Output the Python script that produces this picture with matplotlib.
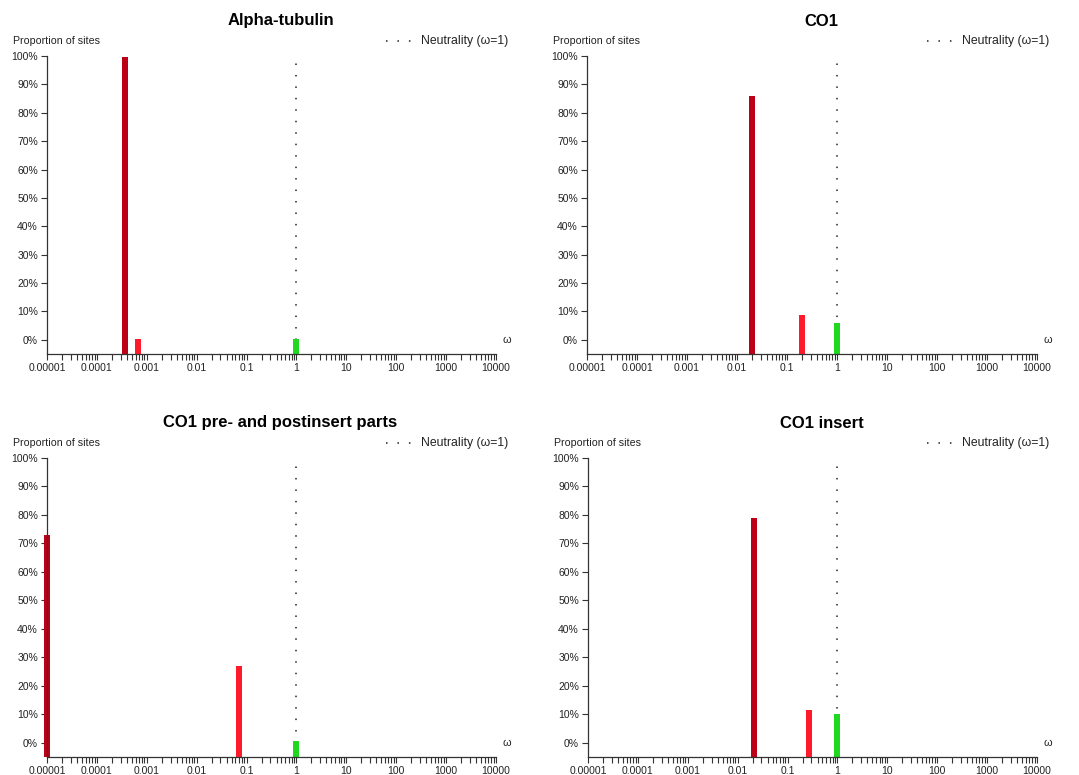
import matplotlib
matplotlib.use("Agg")
import matplotlib.pyplot as plt
from matplotlib.lines import Line2D
from matplotlib.ticker import LogLocator, FixedLocator, FixedFormatter, NullFormatter
import numpy as np

plt.rcParams['font.family'] = ['Liberation Sans', 'DejaVu Sans']

titles = ["Alpha-tubulin", "CO1", "CO1 pre- and postinsert parts", "CO1 insert"]

# omega values of the three site classes and their proportions (%)
omega_alpha = [0.00037, 0.00067, 1.0]
prop_alpha = [99.6, 0.3, 0.3]

omega_co1 = [0.0204, 0.20, 1.0]
prop_co1 = [86.0, 8.8, 6.0]

omega_prepost = [0.00001, 0.071, 1.0]
prop_prepost = [73.0, 27.0, 0.5]

omega_insert = [0.0214, 0.263, 1.0]
prop_insert = [79.0, 11.4, 10.1]

bar_colors = ["#bb0018", "#ff1a2b", "#1fd81f"]

x_ticks = [1e-5, 1e-4, 1e-3, 1e-2, 1e-1, 1, 10, 100, 1000, 10000]
x_tick_labels = ["0.00001", "0.0001", "0.001", "0.01", "0.1", "1", "10", "100", "1000", "10000"]
y_ticks = list(range(0, 101, 10))
y_tick_labels = [f"{v}%" for v in y_ticks]

W, H = 1079, 775
fig = plt.figure(figsize=(W / 100, H / 100), dpi=100)

panels = [
    (47, 496, 56, 354, omega_alpha, prop_alpha),
    (587, 1037, 56, 354, omega_co1, prop_co1),
    (47, 496, 458, 757, omega_prepost, prop_prepost),
    (588, 1037, 458, 757, omega_insert, prop_insert),
]

half_dec = 0.06
txt = "#222222"
axc = "#333333"
dot_style = (0, (1, 6.5))

for i, (l, r, t, b, om, pr) in enumerate(panels):
    ax = fig.add_axes([l / W, 1 - b / H, (r - l) / W, (b - t) / H])
    ax.set_xscale('log')
    ax.set_xlim(1e-5, 1e4)
    ax.set_ylim(-5, 100)
    for s in ['top', 'right']:
        ax.spines[s].set_visible(False)
    for s in ['left', 'bottom']:
        ax.spines[s].set_color(axc)
        ax.spines[s].set_linewidth(0.9)
    ax.spines['left'].set_bounds(-5, 100)
    # neutrality line
    ax.plot([1, 1], [0, 102], color='#222222', lw=1.1, linestyle=dot_style, zorder=1)
    # bars
    for x, v, c in zip(om, pr, bar_colors):
        left = x * 10 ** (-half_dec)
        width = x * 10 ** half_dec - left
        ax.bar(left, v + 5, width=width, bottom=-5, align='edge', color=c,
               edgecolor='none', zorder=2, clip_on=False)
    ax.xaxis.set_major_locator(FixedLocator(x_ticks))
    ax.xaxis.set_major_formatter(FixedFormatter(x_tick_labels))
    ax.xaxis.set_minor_locator(LogLocator(base=10, subs=np.arange(2, 10), numticks=20))
    ax.xaxis.set_minor_formatter(NullFormatter())
    ax.set_yticks(y_ticks)
    ax.set_yticklabels(y_tick_labels)
    ax.tick_params(axis='both', which='major', length=4.5, width=0.8, color=axc,
                   labelsize=7.5, labelcolor=txt, pad=2)
    ax.tick_params(axis='x', which='minor', length=4.0, width=0.8, color=axc)
    ax.tick_params(axis='y', which='minor', length=0)
    # omega label
    fig.text((r + 11) / W, 1 - (t + (b - t) * 0.952) / H, "ω", fontsize=7.8,
             color=txt, ha='center', va='center')
    # title
    fig.text(((l + r) / 2 + 9) / W, 1 - (t - 35) / H, titles[i], fontsize=12,
             fontweight='bold', color='black', ha='center', va='center')
    # y-axis caption
    fig.text((l - 34) / W, 1 - (t - 15) / H, "Proportion of sites", fontsize=7.7,
             color=txt, ha='left', va='center')
    # legend
    ly = 1 - (t - 15) / H
    fig.lines.append(Line2D([(r - 110) / W, (r - 84) / W], [ly, ly], transform=fig.transFigure,
                            color='#222222', lw=1.1, linestyle=dot_style))
    fig.text((r - 75) / W, ly, "Neutrality (ω=1)", fontsize=8.8, color=txt,
             ha='left', va='center')

fig.savefig("out.png", dpi=100, facecolor='white')
